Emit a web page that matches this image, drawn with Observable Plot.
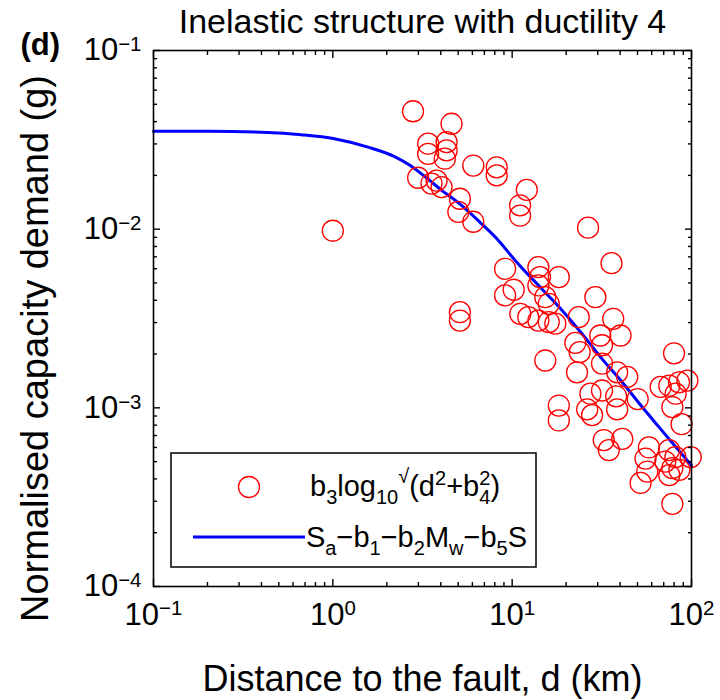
<!DOCTYPE html>
<html>
<head>
<meta charset="utf-8">
<script src="https://cdn.jsdelivr.net/npm/d3@7"></script>
<script src="https://cdn.jsdelivr.net/npm/@observablehq/plot@0.6"></script>
<style>
  html, body { margin: 0; padding: 0; background: #fff; }
  #chart { width: 720px; height: 700px; }
</style>
</head>
<body>
<div id="chart"></div>
<script>
// ---- data ----
const pointD = [2.80, 4.59, 3.40, 3.40, 4.31, 4.31, 4.21, 6.07, 8.20, 8.20,
  2.99, 3.79, 4.04, 3.55, 12.07, 11.07, 11.07, 5.11, 5.01, 6.07,
  1.00, 26.5, 35.8, 9.13, 14.0, 14.3, 18.2, 14.0, 9.13, 10.2,
  15.3, 16.0, 29.1, 5.11, 5.11, 11.1, 12.3, 14.0, 16.0, 17.4,
  23.5, 36.6, 15.3, 31.0, 40.2, 31.7, 22.5, 23.8, 31.7, 23.0,
  38.5, 43.8, 79.9, 27.3, 31.7, 38.0, 50.1, 18.2, 18.2, 27.9,
  38.5, 26.2, 32.4, 34.6, 41.1, 57.9, 55.4, 52.0, 56.7, 74.9,
  78.2, 88.0, 67.3, 75.2, 81.6, 85.2, 94.9, 71.4, 78.2, 75.2,
  81.3, 85.6, 99.0, 78.2];
const pointY = [0.0457, 0.0389, 0.0301, 0.0264, 0.0307, 0.0276, 0.0248, 0.0227, 0.0222, 0.0200,
  0.0194, 0.0187, 0.0172, 0.0180, 0.0166, 0.0136, 0.0119, 0.0148, 0.0125, 0.0110,
  0.0098, 0.0102, 0.00645, 0.00600, 0.00613, 0.00539, 0.00539, 0.00484, 0.00426, 0.00458,
  0.00416, 0.00382, 0.00416, 0.00343, 0.00308, 0.00336, 0.00322, 0.00308, 0.00302, 0.00296,
  0.00322, 0.00315, 0.00184, 0.00254, 0.00254, 0.00224, 0.00231, 0.00205, 0.00177, 0.00158,
  0.00158, 0.00149, 0.00202, 0.00120, 0.00125, 0.00116, 0.00112, 0.00103, 0.00085, 0.00091,
  0.00098, 0.00098, 0.00066, 0.00058, 0.00067, 0.00060, 0.00052, 0.00038, 0.00044, 0.00058,
  0.00101, 0.00081, 0.00131, 0.00133, 0.00120, 0.00139, 0.00142, 0.00050, 0.00046, 0.00042,
  0.00053, 0.00045, 0.00053, 0.00029];

const curveD = [0.1, 0.2, 0.433, 0.665, 1.02, 1.57, 2.21, 2.65, 3.12, 3.55, 4.04, 4.6, 5.22,
  6.76, 8.38, 10.4, 14.6, 19.0, 24.5, 31.7, 41.1, 53.1, 65.9, 100];
const curveY = [0.0353, 0.0353, 0.0348, 0.0338, 0.0321, 0.0288, 0.0255, 0.0230, 0.0204, 0.0184, 0.0165, 0.0150, 0.0136,
  0.0107, 0.00865, 0.00668, 0.00464, 0.00351, 0.00260, 0.00188, 0.00139, 0.00101, 0.00078, 0.000476];

const majorX = [0.1, 1, 10, 100];
const majorY = [1e-4, 1e-3, 1e-2, 1e-1];
const minorX = [0.2,0.3,0.4,0.5,0.6,0.7,0.8,0.9, 2,3,4,5,6,7,8,9, 20,30,40,50,60,70,80,90];
const minorY = [2e-4,3e-4,4e-4,5e-4,6e-4,7e-4,8e-4,9e-4, 2e-3,3e-3,4e-3,5e-3,6e-3,7e-3,8e-3,9e-3, 2e-2,3e-2,4e-2,5e-2,6e-2,7e-2,8e-2,9e-2];

const titleText = "Inelastic structure with ductility 4";
const xLabel = "Distance to the fault, d (km)";
const yLabel = "Normalised capacity demand (g)";
const panelTag = "(d)";

const points = pointD.map((d, i) => ({d, y: pointY[i]}));
const curve = curveD.map((d, i) => ({d, y: curveY[i]}));

const expFmt = v => { const e = Math.round(Math.log10(v)); return e < 0 ? "\u2212" + (-e) : String(e); };
const FONT = "'Liberation Sans', Arial, Helvetica, sans-serif";

const chart = Plot.plot({
  width: 720, height: 700,
  marginLeft: 153, marginRight: 29, marginTop: 50, marginBottom: 114,
  style: { fontFamily: FONT, background: "#fff", color: "#000" },
  x: { type: "log", domain: [0.1, 100] },
  y: { type: "log", domain: [1e-4, 1e-1] },
  marks: [
    Plot.line(curve, { x: "d", y: "y", stroke: "#0000ff", strokeWidth: 3, curve: "monotone-x" }),
    Plot.dot(points, { x: "d", y: "y", r: 10.5, stroke: "#ff0000", strokeWidth: 1.3, fill: "none" }),
    Plot.frame({ stroke: "#000", strokeWidth: 1.6 }),
    // inward major/minor ticks on all four sides
    Plot.axisX({ anchor: "bottom", ticks: majorX, tickSize: -7, fill: "none", label: null, strokeWidth: 1.4 }),
    Plot.axisX({ anchor: "top", ticks: majorX, tickSize: -7, fill: "none", label: null, strokeWidth: 1.4 }),
    Plot.axisX({ anchor: "bottom", ticks: minorX, tickSize: -4, fill: "none", label: null, strokeWidth: 1.4 }),
    Plot.axisX({ anchor: "top", ticks: minorX, tickSize: -4, fill: "none", label: null, strokeWidth: 1.4 }),
    Plot.axisY({ anchor: "left", ticks: majorY, tickSize: -7, fill: "none", label: null, strokeWidth: 1.4 }),
    Plot.axisY({ anchor: "right", ticks: majorY, tickSize: -7, fill: "none", label: null, strokeWidth: 1.4 }),
    Plot.axisY({ anchor: "left", ticks: minorY, tickSize: -4, fill: "none", label: null, strokeWidth: 1.4 }),
    Plot.axisY({ anchor: "right", ticks: minorY, tickSize: -4, fill: "none", label: null, strokeWidth: 1.4 }),
    // tick labels
    Plot.axisX({ anchor: "bottom", ticks: majorX, tickSize: 0, tickPadding: 16, tickFormat: expFmt, label: null, fontSize: 31 }),
    Plot.axisY({ anchor: "left", ticks: majorY, tickSize: 0, tickPadding: 12, tickFormat: expFmt, label: null, fontSize: 31 }),
    // texts
    Plot.text([titleText], { text: d => d, frameAnchor: "top", dy: -28, fontSize: 34, textAnchor: "middle", lineAnchor: "middle" }),
    Plot.text([xLabel], { text: d => d, frameAnchor: "bottom", dy: 93, fontSize: 36, textAnchor: "middle", lineAnchor: "middle" }),
    Plot.text([yLabel], { text: d => d, frameAnchor: "left", dx: -118, dy: 30, rotate: -90, fontSize: 38, textAnchor: "middle", lineAnchor: "middle" }),
    Plot.text([panelTag], { text: d => d, frameAnchor: "top-left", dx: -133, dy: -5, textAnchor: "start", lineAnchor: "middle", fontSize: 31, fontWeight: "bold" })
  ]
});

document.getElementById("chart").appendChild(chart);

// superscript tick labels: 10^e
const NS = "http://www.w3.org/2000/svg";
chart.querySelectorAll('g[aria-label="x-axis tick label"] text, g[aria-label="y-axis tick label"] text').forEach(t => {
  const e = t.textContent;
  t.textContent = "";
  const a = document.createElementNS(NS, "tspan"); a.textContent = "10";
  const b = document.createElementNS(NS, "tspan"); b.textContent = e;
  b.setAttribute("dy", "-0.45em"); b.setAttribute("font-size", "0.66em");
  t.appendChild(a); t.appendChild(b);
});

// legend box
const svg = d3.select(chart);
const lg = svg.append("g").attr("font-family", FONT).attr("font-size", 29).attr("text-anchor", "start");
lg.append("rect").attr("x", 171).attr("y", 453).attr("width", 365).attr("height", 114)
  .attr("fill", "#fff").attr("stroke", "#000").attr("stroke-width", 1.5);
lg.append("circle").attr("cx", 249).attr("cy", 487).attr("r", 10.5)
  .attr("fill", "none").attr("stroke", "#ff0000").attr("stroke-width", 1.3);
lg.append("line").attr("x1", 193).attr("x2", 305).attr("y1", 537).attr("y2", 537)
  .attr("stroke", "#0000ff").attr("stroke-width", 3);

function rich(x, y, parts) {
  const t = lg.append("text").attr("x", x).attr("y", y).attr("text-anchor", "start");
  parts.forEach(p => {
    const s = t.append("tspan").text(p.t);
    if (p.dy) s.attr("dy", p.dy);
    if (p.dx) s.attr("dx", p.dx);
    if (p.fs) s.attr("font-size", p.fs);
  });
}
const SUB = 20;
rich(310, 496, [
  {t: "b"}, {t: "3", dy: 8, fs: SUB}, {t: "log", dy: -8}, {t: "10", dy: 8, fs: SUB},
  {t: "\u221a", dy: -21, fs: SUB}, {t: "(d", dy: 13}, {t: "2", dy: -11, fs: SUB},
  {t: "+b", dy: 11}, {t: "4", dy: 8, fs: SUB}, {t: "2", dy: -19, dx: -11, fs: SUB}, {t: ")", dy: 11}
]);
rich(306, 547, [
  {t: "S"}, {t: "a", dy: 8, fs: SUB}, {t: "\u2212b", dy: -8}, {t: "1", dy: 8, fs: SUB},
  {t: "\u2212b", dy: -8}, {t: "2", dy: 8, fs: SUB}, {t: "M", dy: -8}, {t: "w", dy: 8, fs: SUB},
  {t: "\u2212b", dy: -8}, {t: "5", dy: 8, fs: SUB}, {t: "S", dy: -8}
]);
</script>
</body>
</html>
